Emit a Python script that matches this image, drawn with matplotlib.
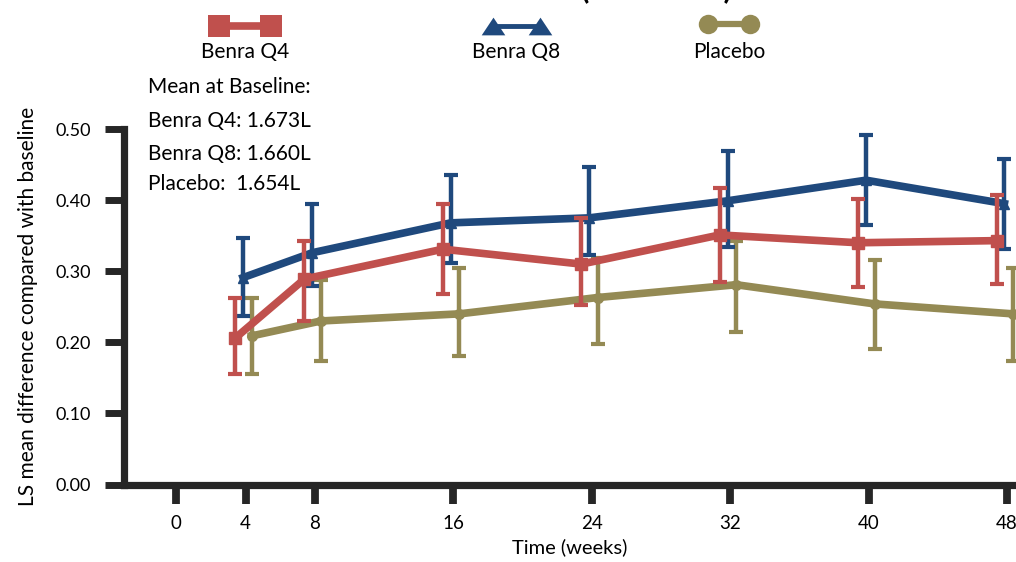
import matplotlib
matplotlib.use("Agg")
import matplotlib.pyplot as plt
from matplotlib.lines import Line2D
from matplotlib.ticker import FormatStrFormatter
import numpy as np

plt.rcParams['font.family'] = ['Lato', 'DejaVu Sans']

# data (LS mean change from baseline, litres)
weeks = [4, 8, 16, 24, 32, 40, 48]

q4_mean = [0.206, 0.289, 0.331, 0.310, 0.351, 0.340, 0.343]
q4_lo = [0.156, 0.230, 0.268, 0.253, 0.285, 0.278, 0.282]
q4_hi = [0.263, 0.343, 0.395, 0.375, 0.417, 0.402, 0.407]

q8_mean = [0.291, 0.326, 0.368, 0.375, 0.399, 0.428, 0.395]
q8_lo = [0.237, 0.279, 0.312, 0.323, 0.334, 0.365, 0.331]
q8_hi = [0.346, 0.395, 0.435, 0.447, 0.469, 0.492, 0.458]

pbo_mean = [0.209, 0.230, 0.240, 0.263, 0.281, 0.254, 0.240]
pbo_lo = [0.156, 0.174, 0.181, 0.197, 0.215, 0.190, 0.173]
pbo_hi = [0.263, 0.287, 0.305, 0.319, 0.343, 0.316, 0.305]

x_ticks = [0, 4, 8, 16, 24, 32, 40, 48]
y_ticks = [0.0, 0.1, 0.2, 0.3, 0.4, 0.5]

baseline_lines = ["Mean at Baseline:", "Benra Q4: 1.673L", "Benra Q8: 1.660L", "Placebo:  1.654L"]

RED = "#C0504D"
BLUE = "#1F497D"
OLIVE = "#948A54"
AXC = "#262626"

W, H = 1016, 562
fig = plt.figure(figsize=(W / 100, H / 100), dpi=100)


def px(x, y):
    return x / W, 1 - y / H


ax = fig.add_axes([124 / W, 1 - 484.5 / H, (W - 124) / W, 355.5 / H])

series = [
    (pbo_mean, pbo_lo, pbo_hi, OLIVE, 'o', 7, 0.35, 2),
    (q8_mean, q8_lo, q8_hi, BLUE, '^', 7, -0.15, 3),
    (q4_mean, q4_lo, q4_hi, RED, 's', 8, -0.6, 4),
]
for mean, lo, hi, col, mk, ms, dx, z in series:
    mean = np.array(mean)
    xs = np.array(weeks) + dx
    yerr = [mean - np.array(lo), np.array(hi) - mean]
    ax.errorbar(xs, mean, yerr=yerr, color=col, lw=5.5, marker=mk, ms=ms,
                elinewidth=3.2, capsize=4.7, capthick=3, zorder=z, clip_on=False)

ax.set_xlim(-3.03, 48.52)
ax.set_ylim(0, 0.5)
ax.set_xticks(x_ticks)
ax.set_yticks(y_ticks)
ax.yaxis.set_major_formatter(FormatStrFormatter('%.2f'))

for s in ['top', 'right']:
    ax.spines[s].set_visible(False)
for s in ['left', 'bottom']:
    ax.spines[s].set_linewidth(5.2)
    ax.spines[s].set_color(AXC)

ax.tick_params(axis='y', direction='out', length=14, width=5, pad=10,
               labelsize=13, color=AXC)
ax.tick_params(axis='x', direction='out', length=13.5, width=5.6, pad=8.5,
               labelsize=13.5, color=AXC)

ax.set_ylabel("LS mean difference compared with baseline", fontsize=15)
ax.yaxis.set_label_coords(-0.096, 0.5)
ax.set_xlabel("Time (weeks)", fontsize=14.5)
ax.xaxis.set_label_coords(0.5, -0.152)

# baseline means text block
for txt, yb in zip(baseline_lines, [93, 127, 160, 190]):
    fig.text(*px(148, yb), txt, fontsize=15, va='baseline', ha='left')

# legend: handle above label
legend_items = [
    ("Benra Q4", RED, 's', 16, 5.5, 219, 271, 26),
    ("Benra Q8", BLUE, [(-1, -0.75), (1, -0.75), (0, 0.75)], 17, 3.5, 493, 540, 26),
    ("Placebo", OLIVE, 'o', 14, 4.5, 708, 750, 24),
]
for label, col, mk, ms, lw, x1, x2, yc in legend_items:
    (fx1, fy), (fx2, _) = px(x1, yc), px(x2, yc)
    fig.add_artist(Line2D([fx1, fx2], [fy, fy], transform=fig.transFigure,
                          color=col, lw=lw, marker=mk, ms=ms, mew=0))
    fig.text(*px((x1 + x2) / 2, 58), label, fontsize=15, ha='center', va='baseline')

# title, mostly cut off at the top edge (as in the source image)
fig.text(*px(657, -2), "(SIROCCO)", fontsize=22, fontweight='bold',
         ha='center', va='baseline')

fig.savefig("out.png", dpi=100)
